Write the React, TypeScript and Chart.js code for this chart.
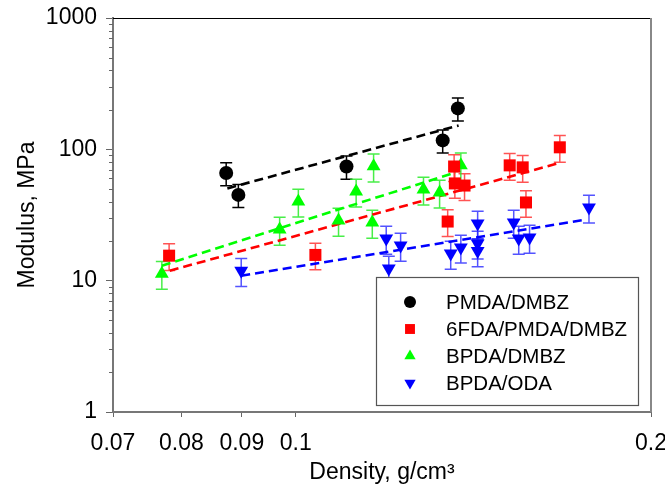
import React, { useEffect, useRef } from "react";
import { Chart, registerables } from "chart.js";

Chart.register(...registerables);

const FONT = "'Liberation Sans', Arial, sans-serif";

// Axis ticks
const xTicks = [0.07, 0.08, 0.09, 0.1, 0.2];
const yTicks = [1, 10, 100, 1000];

// Series names
const seriesNames = ["PMDA/DMBZ", "6FDA/PMDA/DMBZ", "BPDA/DMBZ", "BPDA/ODA"];

// PMDA/DMBZ
const pmdaDmbzX = [0.0873, 0.0894, 0.1104, 0.1332, 0.1372];
const pmdaDmbzY = [66, 45, 74, 117, 205];

// 6FDA/PMDA/DMBZ
const fdaX = [0.0781, 0.1039, 0.1345, 0.1362, 0.1364, 0.139, 0.1518, 0.1557, 0.1567, 0.1674];
const fdaY = [15.5, 15.7, 28.2, 74, 55, 53, 75.5, 72.9, 39.4, 103.6];

// BPDA/DMBZ
const bpdaDmbzX = [0.077, 0.0969, 0.1005, 0.1087, 0.1125, 0.1164, 0.1161, 0.1283, 0.1324, 0.138];
const bpdaDmbzY = [11.3, 24.5, 40.1, 28.7, 47.8, 74.2, 27.7, 49.5, 47, 75.5];

// BPDA/ODA
const bpdaOdaX = [0.0899, 0.1193, 0.1199, 0.1227, 0.1353, 0.138, 0.1426, 0.1426, 0.1426, 0.153, 0.1545, 0.1578, 0.1772];
const bpdaOdaY = [11.9, 20.9, 12.4, 18.5, 16.1, 17.9, 27.2, 19.2, 16.8, 27.7, 20.9, 21.3, 36.1];

// Relative error (fraction) of each series
const relErrors = [0.2, 0.23, 0.24, 0.24];

// Dashed trend lines (end points)
const pmdaTrendX = [0.0875, 0.1374];
const pmdaTrendY = [50.4, 152];
const fdaTrendX = [0.0782, 0.1668];
const fdaTrendY = [11.9, 78.2];
const bpdaDmbzTrendX = [0.077, 0.1366];
const bpdaDmbzTrendY = [13.0, 66.8];
const bpdaOdaTrendX = [0.0899, 0.1762];
const bpdaOdaTrendY = [10.9, 29.2];

const colors = ["#000000", "#ff0000", "#00ff00", "#0000ff"];
const barColors = ["#000000", "rgba(255,40,40,0.8)", "rgba(40,235,40,0.85)", "rgba(40,40,255,0.8)"];
const styles = ["circle", "rect", "triangle", "triangle"];
const rotations = [0, 0, 0, 180];
const radii = [7, 8.5, 8, 8];

const pts = (xs: number[], ys: number[]) => xs.map((x, i) => ({ x, y: ys[i] }));

const errorBarPlugin = {
  id: "errorBars",
  beforeDatasetsDraw(chart: any) {
    const ctx = chart.ctx;
    const xs = chart.scales.x;
    const ys = chart.scales.y;
    ctx.save();
    chart.data.datasets.forEach((ds: any) => {
      if (ds.relErr == null) return;
      ctx.strokeStyle = ds.barColor;
      ctx.lineWidth = 1.5;
      ds.data.forEach((p: any) => {
        const px = xs.getPixelForValue(p.x);
        const top = ys.getPixelForValue(p.y * (1 + ds.relErr));
        const bot = ys.getPixelForValue(p.y * (1 - ds.relErr));
        ctx.beginPath();
        ctx.moveTo(px, top);
        ctx.lineTo(px, bot);
        ctx.moveTo(px - 6, top);
        ctx.lineTo(px + 6, top);
        ctx.moveTo(px - 6, bot);
        ctx.lineTo(px + 6, bot);
        ctx.stroke();
      });
    });
    ctx.restore();
  },
};

function drawMarker(ctx: CanvasRenderingContext2D, style: string, rot: number, x: number, y: number, r: number, color: string) {
  ctx.fillStyle = color;
  ctx.beginPath();
  if (style === "circle") {
    ctx.arc(x, y, r, 0, Math.PI * 2);
  } else if (style === "rect") {
    const s = r * Math.SQRT1_2;
    ctx.rect(x - s, y - s, 2 * s, 2 * s);
  } else {
    let a = (rot * Math.PI) / 180;
    ctx.moveTo(x + Math.sin(a) * r, y - Math.cos(a) * r);
    a += (2 * Math.PI) / 3;
    ctx.lineTo(x + Math.sin(a) * r, y - Math.cos(a) * r);
    a += (2 * Math.PI) / 3;
    ctx.lineTo(x + Math.sin(a) * r, y - Math.cos(a) * r);
    ctx.closePath();
  }
  ctx.fill();
}

const framePlugin = {
  id: "frameAndLegend",
  afterDraw(chart: any) {
    const ctx = chart.ctx;
    const { left, right, top, bottom } = chart.chartArea;
    const ys = chart.scales.y;
    ctx.save();
    // minor y ticks
    ctx.strokeStyle = "#666";
    ctx.lineWidth = 1;
    for (let d = 1; d < 1000; d *= 10) {
      for (let k = 2; k <= 9; k++) {
        const py = Math.round(ys.getPixelForValue(d * k)) + 0.5;
        ctx.beginPath();
        ctx.moveTo(left - 4, py);
        ctx.lineTo(left, py);
        ctx.stroke();
      }
    }
    // top and right border
    ctx.strokeStyle = "#000";
    ctx.lineWidth = 1.2;
    ctx.beginPath();
    ctx.moveTo(left, top + 0.5);
    ctx.lineTo(right, top + 0.5);
    ctx.stroke();
    ctx.strokeStyle = "#888";
    ctx.lineWidth = 2;
    ctx.beginPath();
    ctx.moveTo(right, top);
    ctx.lineTo(right, bottom);
    ctx.stroke();

    // legend
    const bx = right - 275;
    const by = bottom - 135;
    const bw = 262;
    const bh = 128;
    ctx.fillStyle = "#fff";
    ctx.fillRect(bx, by, bw, bh);
    ctx.strokeStyle = "#555";
    ctx.lineWidth = 1.2;
    ctx.strokeRect(bx + 0.5, by + 0.5, bw, bh);
    ctx.font = `20.5px ${FONT}`;
    ctx.textBaseline = "middle";
    ctx.textAlign = "left";
    seriesNames.forEach((name, i) => {
      const ry = by + 25 + i * 27;
      const lr = [6, 7, 6.5, 6.5][i];
      drawMarker(ctx, styles[i], rotations[i], bx + 34, ry, lr, colors[i]);
      ctx.fillStyle = "#000";
      ctx.fillText(name, bx + 70, ry + 1);
    });
    ctx.restore();
  },
};

export default function App() {
  const ref = useRef<HTMLCanvasElement | null>(null);
  useEffect(() => {
    if (!ref.current) return;
    const seriesX = [pmdaDmbzX, fdaX, bpdaDmbzX, bpdaOdaX];
    const seriesY = [pmdaDmbzY, fdaY, bpdaDmbzY, bpdaOdaY];
    const trendX = [pmdaTrendX, fdaTrendX, bpdaDmbzTrendX, bpdaOdaTrendX];
    const trendY = [pmdaTrendY, fdaTrendY, bpdaDmbzTrendY, bpdaOdaTrendY];

    const pointSets: any[] = seriesNames.map((name, i) => ({
      label: name,
      data: pts(seriesX[i], seriesY[i]),
      showLine: false,
      pointStyle: styles[i],
      rotation: rotations[i],
      pointRadius: radii[i],
      pointBackgroundColor: colors[i],
      pointBorderColor: colors[i],
      pointBorderWidth: 0,
      relErr: relErrors[i],
      barColor: barColors[i],
    }));
    const lineSets: any[] = seriesNames.map((name, i) => ({
      label: name + " fit",
      data: pts(trendX[i], trendY[i]),
      showLine: true,
      pointRadius: 0,
      borderColor: colors[i],
      borderWidth: 2.6,
      borderDash: [9, 5],
      fill: false,
    }));

    const chart = new Chart(ref.current, {
      type: "scatter",
      data: { datasets: [...pointSets, ...lineSets] },
      options: {
        animation: false,
        responsive: false,
        maintainAspectRatio: false,
        layout: { padding: { top: 18, right: 14, left: 0, bottom: 0 } },
        plugins: { legend: { display: false }, tooltip: { enabled: false } },
        scales: {
          x: {
            type: "logarithmic",
            min: 0.07,
            max: 0.2,
            position: "bottom",
            afterBuildTicks: (s: any) => {
              s.ticks = xTicks.map((v) => ({ value: v }));
            },
            afterFit: (s: any) => {
              s.height = 76;
              s.paddingLeft = 0;
              s.paddingRight = 0;
            },
            ticks: {
              callback: (v: any) => String(v),
              font: { size: 23, family: FONT },
              color: "#000",
              padding: 13,
              maxRotation: 0,
              autoSkip: false,
            },
            grid: { display: true, drawOnChartArea: false, drawTicks: true, tickLength: 5, color: "#666" },
            border: { display: true, color: "#777", width: 2 },
            title: {
              display: true,
              text: "Density, g/cm³",
              font: { size: 23, family: FONT },
              color: "#000",
              padding: { top: 0, bottom: 2 },
            },
          },
          y: {
            type: "logarithmic",
            min: 1,
            max: 1000,
            afterBuildTicks: (s: any) => {
              s.ticks = yTicks.map((v) => ({ value: v }));
            },
            afterFit: (s: any) => {
              s.width = 113;
              s.paddingTop = 0;
              s.paddingBottom = 0;
            },
            ticks: {
              callback: (v: any) => String(v),
              font: { size: 23, family: FONT },
              color: "#000",
              padding: 9,
              autoSkip: false,
            },
            grid: { display: true, drawOnChartArea: false, drawTicks: true, tickLength: 7, color: "#666" },
            border: { display: true, color: "#777", width: 2 },
            title: {
              display: true,
              text: "Modulus, MPa",
              font: { size: 23, family: FONT },
              color: "#000",
              padding: { top: 14, bottom: 0 },
            },
          },
        },
      },
      plugins: [errorBarPlugin, framePlugin],
    } as any);
    return () => chart.destroy();
  }, []);

  return (
    <div style={{ position: "absolute", left: 0, top: 0, width: 665, height: 488, background: "#fff" }}>
      <canvas ref={ref} width={665} height={488} />
    </div>
  );
}
